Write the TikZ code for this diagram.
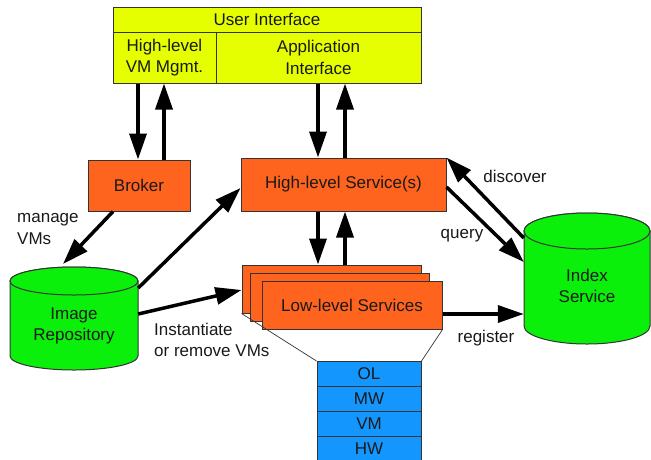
\documentclass[tikz,border=0pt]{standalone}
\usepackage{fontspec}
\setmainfont{Liberation Sans}
\usetikzlibrary{arrows.meta,calc}
\definecolor{uiyellow}{RGB}{230,255,0}
\definecolor{svcorange}{RGB}{255,100,30}
\definecolor{dbgreen}{RGB}{10,240,10}
\definecolor{stackblue}{RGB}{20,150,255}
\tikzset{
  txt/.style={font=\fontsize{17}{21.5}\selectfont, text=black!90, inner sep=0pt},
  uibox/.style={txt, draw=black!80, line width=1pt, fill=uiyellow, align=center},
  svcbox/.style={txt, draw=black!80, line width=1pt, fill=svcorange, align=center},
  stackbox/.style={txt, draw=black!80, line width=1pt, fill=stackblue, minimum width=104pt, minimum height=25pt},
  cyl/.style={draw=black!80, line width=1pt, fill=dbgreen},
  arr/.style={line width=3.5pt, -{Triangle[length=26pt,width=17pt]}},
  thin/.style={line width=0.7pt, draw=black!80},
  lbl/.style={txt, align=left}
}
\begin{document}
\begin{tikzpicture}[x=1pt,y=-1pt]
\useasboundingbox (0,0) rectangle (651,459);
\clip (0,0) rectangle (651,459);
\fill[white] (0,0) rectangle (651,459);

% User interface block
\node[uibox, minimum width=308pt, minimum height=25pt] (ui) at (267,19.5) {User Interface};
\node[uibox, minimum width=103pt, minimum height=51pt] (vmm) at (164.5,57.5) {High-level\\VM Mgmt.};
\node[uibox, minimum width=205pt, minimum height=51pt] (app) at (318.5,57.5) {Application\\Interface};

% Broker and high-level services
\node[svcbox, minimum width=102pt, minimum height=51pt] (broker) at (139,185.5) {Broker};
\node[svcbox, minimum width=205pt, minimum height=53pt] (hls) at (343.5,184.5) {High-level Service(s)};

% Low-level services stack
\node[svcbox, minimum width=179pt, minimum height=48pt] (lls1) at (331.5,289) {};
\node[svcbox, minimum width=179pt, minimum height=48pt] (lls2) at (339.5,297) {};
\node[svcbox, minimum width=180pt, minimum height=48pt] (lls3) at (352,305) {Low-level Services};

% Layer stack
\node[stackbox] (ol) at (369,374) {OL};
\node[stackbox] (mw) at (369,398.5) {MW};
\node[stackbox] (vml) at (369,423.5) {VM};
\node[stackbox] (hw) at (369,448.5) {HW};

% funnel lines
\draw[thin] (lls1.south west) -- (ol.north west);
\draw[thin] (lls3.south east) -- (ol.north east);

% Image repository cylinder
\path[cyl] (10,281) arc[start angle=180,end angle=360,x radius=64,y radius=14]
  -- (138,356) arc[start angle=0,end angle=180,x radius=64,y radius=14] -- cycle;
\path[cyl] (74,281) ellipse[x radius=64,y radius=14];
\node[txt, align=center, minimum width=128pt, minimum height=100pt] (img) at (74,326) {Image\\Repository};

% Index service cylinder
\path[cyl] (524,231) arc[start angle=180,end angle=360,x radius=63,y radius=18]
  -- (650,326) arc[start angle=0,end angle=180,x radius=63,y radius=18] -- cycle;
\path[cyl] (587,231) ellipse[x radius=63,y radius=18];
\node[txt, align=center, minimum width=126pt, minimum height=120pt] (idx) at (587,286) {Index\\Service};

% UI <-> broker / hls
\draw[arr] (138,0 |- vmm.south) -- (138,0 |- broker.north);
\draw[arr] (164,0 |- broker.north) -- (164,0 |- vmm.south);
\draw[arr] (318,0 |- app.south) -- (318,0 |- hls.north);
\draw[arr] (345,0 |- hls.north) -- (345,0 |- app.south);

% hls <-> lls
\draw[arr] (318,0 |- hls.south) -- (318,0 |- lls1.north);
\draw[arr] (345,0 |- lls1.north) -- (345,0 |- hls.south);

% broker -> image repository
\draw[arr] (113,0 |- broker.south) -- (63,264);
\node[lbl, anchor=west] (manage) at (17,229) {manage\\VMs};

% image repository -> hls, lls
\draw[arr] (img.east |- 0,288) -- (hls.west |- 0,188);
\draw[arr] (img.east |- 0,314) -- (lls1.west |- 0,290);
\node[lbl, anchor=west] (inst) at (154,340) {Instantiate\\or remove VMs};

% hls <-> index
\draw[arr] (idx.west |- 0,238) -- (hls.north east);
\draw[arr] (hls.east |- 0,187) -- (idx.west |- 0,262);
\node[txt] (disc) at (515,176) {discover};
\node[txt] (qry) at (462,236) {query};

% lls -> index
\draw[arr] (lls3.east |- 0,314) -- (idx.west |- 0,314);
\node[txt] (reg) at (486,338) {register};
\end{tikzpicture}
\end{document}
